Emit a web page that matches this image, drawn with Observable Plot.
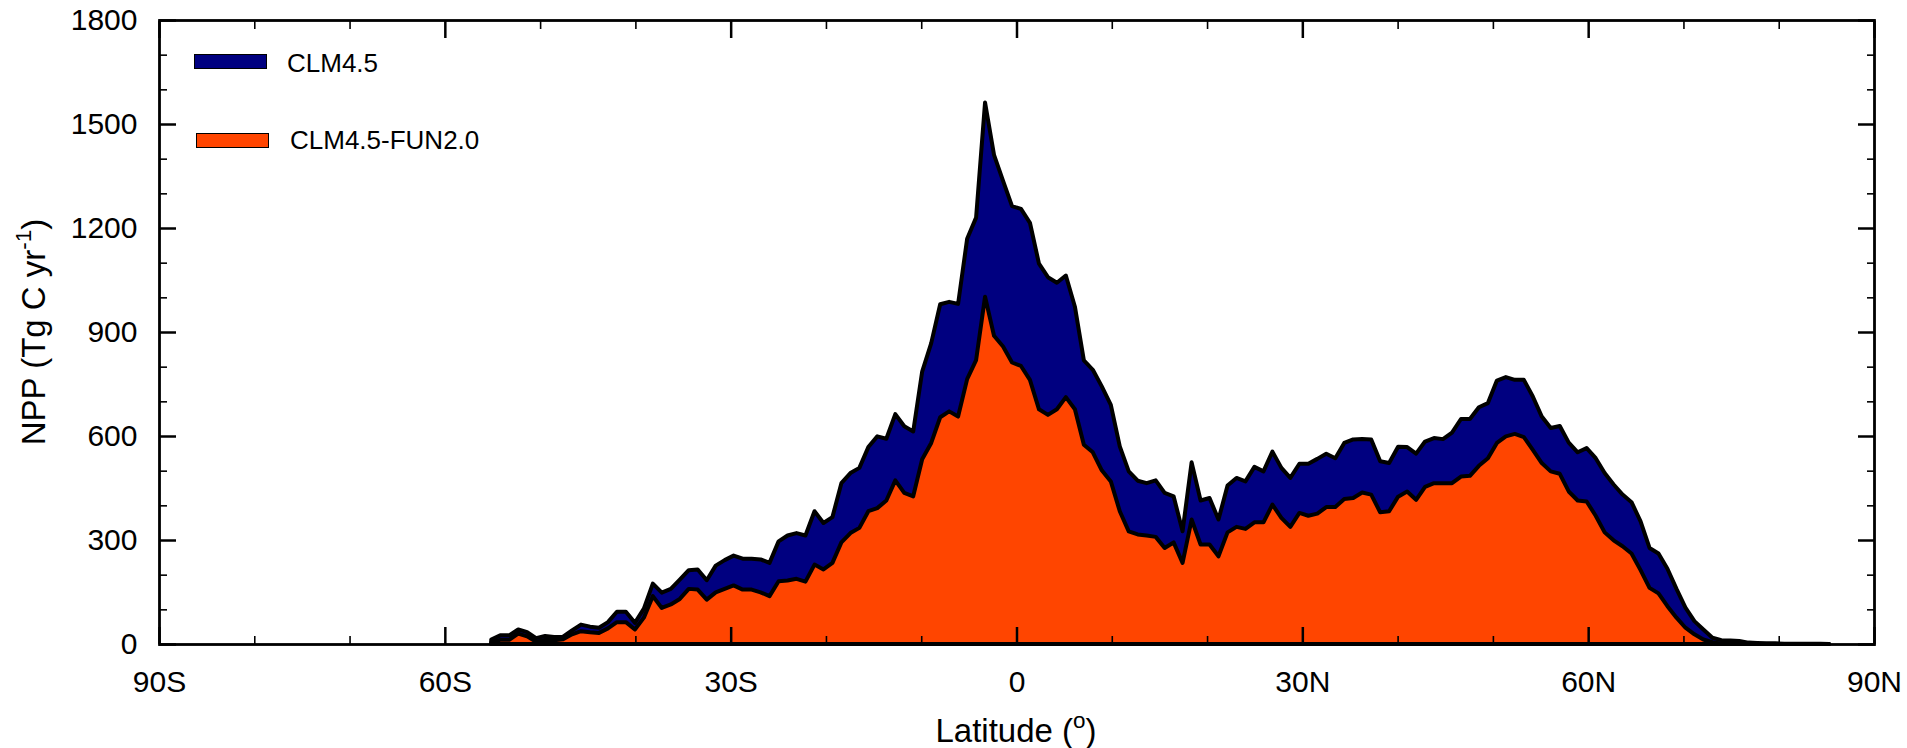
<!DOCTYPE html>
<html>
<head>
<meta charset="utf-8">
<script src="https://cdn.jsdelivr.net/npm/d3@7"></script>
<script src="https://cdn.jsdelivr.net/npm/@observablehq/plot@0.6"></script>
<style>
  body { margin: 0; background: #fff; }
  #wrap { position: relative; width: 1907px; height: 748px; font-family: "Liberation Sans", Arial, Helvetica, sans-serif; color: #000; }
  .ttl { position: absolute; white-space: nowrap; line-height: 1; font-size: 33px; }
  .ttl sup { font-size: 0.68em; vertical-align: 0.62em; line-height: 0; }
  .leg-sw { position: absolute; border: 1.2px solid #000; box-sizing: border-box; }
  .leg-tx { position: absolute; white-space: nowrap; line-height: 1; font-size: 26px; }
</style>
</head>
<body>
<div id="wrap"></div>
<script>
// Latitude bands (degrees, negative = south)
const lats = [
  -55.13, -54.19, -53.25, -52.30, -51.36, -50.42, -49.48, -48.53, -47.59, -46.65,
  -45.71, -44.76, -43.82, -42.88, -41.94, -41.00, -40.05, -39.11, -38.17, -37.23,
  -36.28, -35.34, -34.40, -33.46, -32.51, -31.57, -30.63, -29.69, -28.74, -27.80,
  -26.86, -25.92, -24.97, -24.03, -23.09, -22.15, -21.20, -20.26, -19.32, -18.38,
  -17.43, -16.49, -15.55, -14.61, -13.66, -12.72, -11.78, -10.84, -9.90, -8.95,
  -8.01, -7.07, -6.13, -5.18, -4.24, -3.30, -2.36, -1.41, -0.47, 0.47,
  1.41, 2.36, 3.30, 4.24, 5.18, 6.13, 7.07, 8.01, 8.95, 9.90,
  10.84, 11.78, 12.72, 13.66, 14.61, 15.55, 16.49, 17.43, 18.38, 19.32,
  20.26, 21.20, 22.15, 23.09, 24.03, 24.97, 25.92, 26.86, 27.80, 28.74,
  29.69, 30.63, 31.57, 32.51, 33.46, 34.40, 35.34, 36.28, 37.23, 38.17,
  39.11, 40.05, 41.00, 41.94, 42.88, 43.82, 44.76, 45.71, 46.65, 47.59,
  48.53, 49.48, 50.42, 51.36, 52.30, 53.25, 54.19, 55.13, 56.07, 57.02,
  57.96, 58.90, 59.84, 60.79, 61.73, 62.67, 63.61, 64.55, 65.50, 66.44,
  67.38, 68.32, 69.27, 70.21, 71.15, 72.09, 73.04, 73.98, 74.92, 75.86,
  76.81, 77.75, 78.69, 79.63, 80.58, 81.52, 82.46, 83.40, 84.35, 85.29
];

// NPP, Tg C yr-1 : CLM4.5
const clm45 = [
  13, 25, 25, 42, 34, 17, 23, 20, 21, 39,
  56, 50, 47, 63, 93, 93, 61, 102, 174, 148,
  159, 186, 213, 215, 184, 226, 242, 255, 246, 246,
  244, 234, 296, 313, 320, 313, 383, 349, 366, 464,
  493, 508, 568, 599, 592, 663, 628, 613, 786, 868,
  980, 987, 981, 1169, 1230, 1562, 1411, 1336, 1263, 1255,
  1215, 1097, 1058, 1042, 1063, 973, 818, 791, 743, 690,
  570, 498, 471, 464, 472, 436, 426, 325, 524, 414,
  421, 359, 457, 479, 469, 511, 498, 555, 508, 479,
  520, 520, 534, 549, 536, 580, 590, 591, 590, 527,
  522, 569, 568, 549, 584, 594, 591, 610, 649, 649,
  683, 695, 760, 770, 762, 762, 714, 656, 623, 629,
  581, 553, 565, 536, 493, 460, 431, 409, 354, 277,
  261, 217, 159, 105, 66, 42, 18, 11, 10, 9,
  4, 3, 2, 2, 1, 1, 1, 1, 1, 0
];

// NPP, Tg C yr-1 : CLM4.5-FUN2.0
const fun20 = [
  5, 12, 12, 30, 22, 6, 12, 11, 14, 28,
  37, 34, 32, 45, 63, 63, 42, 76, 138, 104,
  114, 130, 159, 157, 128, 149, 159, 169, 157, 157,
  149, 138, 181, 183, 188, 180, 229, 215, 234, 293,
  320, 335, 383, 392, 414, 472, 436, 426, 533, 580,
  654, 671, 656, 764, 819, 1002, 889, 858, 812, 802,
  762, 677, 661, 677, 712, 677, 575, 553, 501, 469,
  383, 325, 316, 313, 309, 277, 293, 234, 359, 287,
  287, 253, 322, 338, 332, 351, 351, 402, 364, 338,
  378, 370, 376, 395, 395, 418, 421, 437, 431, 380,
  383, 425, 440, 416, 453, 464, 464, 464, 483, 485,
  514, 536, 580, 599, 606, 597, 560, 522, 498, 491,
  440, 414, 411, 370, 322, 299, 282, 261, 213, 162,
  146, 109, 76, 47, 28, 13, 5, 1, 0, 0,
  0, 0, 0, 0, 0, 0, 0, 0, 0, 0
];

const seriesNames = ["CLM4.5", "CLM4.5-FUN2.0"];
const seriesColors = ["#000080", "#ff4500"];
const xMajor = [-90, -60, -30, 0, 30, 60, 90];
const xMinor = [-80, -70, -50, -40, -20, -10, 10, 20, 40, 50, 70, 80];
const yMajor = [0, 300, 600, 900, 1200, 1500, 1800];
const yMinor = [100, 200, 400, 500, 700, 800, 1000, 1100, 1300, 1400, 1600, 1700];
const xTitle = "Latitude (<sup>o</sup>)";
const yTitle = "NPP (Tg C yr<sup>-1</sup>)";

const rows = lats.map((lat, i) => ({lat, clm: clm45[i], fun: fun20[i]}));
const fmtLat = d => d === 0 ? "0" : d < 0 ? `${-d}S` : `${d}N`;

// tick-only axis (inward ticks, no text)
const ticksOnly = (fn, data, anchor, size, sw) =>
  fn(data, {anchor, tickSize: -size, strokeWidth: sw, fill: "none", label: null});

const chart = Plot.plot({
  width: 1907,
  height: 748,
  marginLeft: 159,
  marginRight: 33,
  marginTop: 20,
  marginBottom: 104,
  x: {domain: [-90, 90]},
  y: {domain: [0, 1800]},
  style: {fontFamily: "'Liberation Sans', Arial, Helvetica, sans-serif", fontSize: "30px", color: "#000", background: "#fff", overflow: "visible"},
  marks: [
    Plot.areaY(rows, {x: "lat", y: "clm", fill: seriesColors[0], stroke: "#000", strokeWidth: 4}),
    Plot.areaY(rows, {x: "lat", y: "fun", fill: seriesColors[1], stroke: "#000", strokeWidth: 4}),
    ticksOnly(Plot.axisX, xMajor, "bottom", 17, 2.5),
    ticksOnly(Plot.axisX, xMinor, "bottom", 8, 1.6),
    ticksOnly(Plot.axisX, xMajor, "top", 17, 2.5),
    ticksOnly(Plot.axisX, xMinor, "top", 8, 1.6),
    ticksOnly(Plot.axisY, yMajor, "left", 17, 2.5),
    ticksOnly(Plot.axisY, yMinor, "left", 8, 1.6),
    ticksOnly(Plot.axisY, yMajor, "right", 17, 2.5),
    ticksOnly(Plot.axisY, yMinor, "right", 8, 1.6),
    // tick labels
    Plot.axisX(xMajor, {anchor: "bottom", tickSize: 0, tickPadding: 26, tickFormat: fmtLat, label: null}),
    Plot.axisY(yMajor, {anchor: "left", tickSize: 0, tickPadding: 22, tickFormat: d => String(d), label: null}),
    Plot.frame({stroke: "#000", strokeWidth: 2.8})
  ]
});

const wrap = document.getElementById("wrap");
wrap.appendChild(chart);

// axis titles
const xt = document.createElement("div");
xt.className = "ttl";
xt.innerHTML = xTitle;
xt.style.left = "1016px";
xt.style.top = "714px";
xt.style.transform = "translateX(-50%)";
wrap.appendChild(xt);

const yt = document.createElement("div");
yt.className = "ttl";
yt.innerHTML = yTitle;
yt.style.left = "33px";
yt.style.top = "332px";
yt.style.transform = "translate(-50%,-50%) rotate(-90deg)";
wrap.appendChild(yt);

// legend inside the plot frame
const legPos = [
  {sw: [194, 54, 73, 15], tx: [287, 50]},
  {sw: [196, 133, 73, 15], tx: [290, 127]}
];
seriesNames.forEach((name, i) => {
  const sw = document.createElement("div");
  sw.className = "leg-sw";
  const [l, t, w, h] = legPos[i].sw;
  Object.assign(sw.style, {left: l + "px", top: t + "px", width: w + "px", height: h + "px", background: seriesColors[i]});
  wrap.appendChild(sw);
  const tx = document.createElement("div");
  tx.className = "leg-tx";
  tx.textContent = name;
  tx.style.left = legPos[i].tx[0] + "px";
  tx.style.top = legPos[i].tx[1] + "px";
  wrap.appendChild(tx);
});
</script>
</body>
</html>
